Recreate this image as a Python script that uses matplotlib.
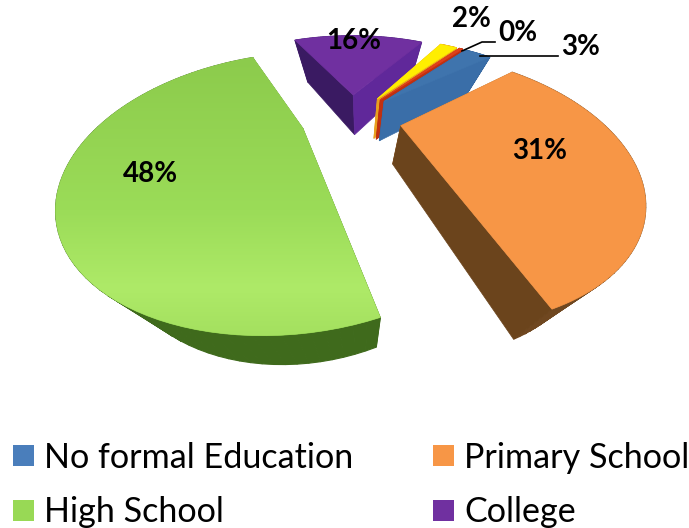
import numpy as np
import matplotlib
matplotlib.use("Agg")
import matplotlib.pyplot as plt
from matplotlib.colors import LinearSegmentedColormap
from matplotlib.patches import Polygon, Rectangle

# ----------------------------------------------------
# Data
# ----------------------------------------------------

categories = ["No formal Education", "Primary School", "High School", "College", "Other", "Unknown"]
percent = [3, 31, 48, 16, 2, 0.4]

top_colors = ["#3f74ad", "#f79646", "#98d955", "#7030a0", "#ffee00", "#e0401a"]
wall_start = ["#2f5f99", "#a8682c", "#3f6a1c", "#3a1a62", "#e8a020", "#c03010"]
wall_end = ["#3a6ea8", "#6b441c", "#3f6a1c", "#60289a", "#e8a020", "#c03010"]
wall_arc = ["#2f5f99", "#6f4720", "#3f6a1c", "#4a2278", "#e8a020", "#c03010"]

label_pos = [(581, 47), (540, 151), (150, 174), (354, 41), (471, 19), (518, 33)]
draw_order = [3, 4, 5, 0, 2, 1]

# ----------------------------------------------------
# Projection of the tilted pie
# ----------------------------------------------------

start_angle = 40
explode = 0.25
radius = 0.99
center = (0.006, -0.082)


def project(x, y):
    # ground plane to pixels, y grows toward the viewer
    s = 1 / (2.154 - y)
    return 350 + 447 * x * s, -113 + 517 * s


def drop(px, py):
    # bottom face sits under the top face, verticals converge below
    return px + (360 - px) * 0.2, py + 44 - 0.045 * py


def slice_outline(a0, a1):
    mid = np.radians((a0 + a1) / 2)
    ax = center[0] + explode * np.sin(mid)
    ay = center[1] - explode * np.cos(mid)
    t = np.radians(np.linspace(a0, a1, 80))
    xs = np.concatenate([[ax], ax + radius * np.sin(t)])
    ys = np.concatenate([[ay], ay - radius * np.cos(t)])
    return project(xs, ys)


fig = plt.figure(figsize=(6.89, 5.28), dpi=100)
ax = fig.add_axes([0, 0, 1, 1])

plt.rcParams["font.family"] = ["Lato", "DejaVu Sans"]

fractions = np.array(percent) / sum(percent)
edges = start_angle + np.concatenate([[0], np.cumsum(fractions) * 360])

# ----------------------------------------------------
# Slices
# ----------------------------------------------------

for i in draw_order:

    px, py = slice_outline(edges[i], edges[i + 1])
    bx, by = drop(px, py)
    n = len(px)
    z = draw_order.index(i) * 3

    for k in range(1, n - 1):
        quad = [(px[k], py[k]), (px[k + 1], py[k + 1]), (bx[k + 1], by[k + 1]), (bx[k], by[k])]
        ax.add_patch(Polygon(quad, color=wall_arc[i], lw=0.8, zorder=z + 1))

    quad = [(px[0], py[0]), (px[1], py[1]), (bx[1], by[1]), (bx[0], by[0])]
    ax.add_patch(Polygon(quad, color=wall_start[i], lw=0.5, zorder=z + 1))

    quad = [(px[0], py[0]), (px[-1], py[-1]), (bx[-1], by[-1]), (bx[0], by[0])]
    ax.add_patch(Polygon(quad, color=wall_end[i], lw=0.5, zorder=z + 1))

    top = Polygon(np.column_stack([px, py]), color=top_colors[i], lw=0.5, zorder=z + 2)
    ax.add_patch(top)

    if categories[i] == "High School":
        cmap = LinearSegmentedColormap.from_list(
            "green_top",
            [(0, "#8ccb4c"), (0.55, "#9bdc58"), (0.83, "#aeea68"), (1, "#a4e05f")]
        )
        img = ax.imshow(
            np.linspace(0, 1, 256).reshape(-1, 1),
            cmap=cmap,
            extent=(px.min(), px.max(), py.max(), py.min()),
            aspect="auto",
            zorder=z + 2.5
        )
        img.set_clip_path(top)

# ----------------------------------------------------
# Labels and leader lines
# ----------------------------------------------------

for value, (x, y) in zip(percent, label_pos):
    ax.text(x, y, f"{value:.0f}%", fontsize=20, fontweight="bold", ha="center", va="center", color="black", zorder=40)

ax.plot([462, 482, 495], [51, 42, 42], color="black", lw=1.2, zorder=39)
ax.plot([480, 558], [56, 56], color="black", lw=1.2, zorder=39)

# ----------------------------------------------------
# Legend
# ----------------------------------------------------

legend_x = [13, 433, 13, 433]
legend_y = [445, 445, 500, 500]

for i in range(4):
    ax.add_patch(Rectangle((legend_x[i], legend_y[i]), 21, 21, color=top_colors[i] if i != 0 else "#4a7ebb", lw=0, zorder=40))
    ax.text(legend_x[i] + 31, legend_y[i] + 12.5, categories[i], fontsize=24.6, ha="left", va="center", color="black", zorder=40)

ax.set_xlim(0, 689)
ax.set_ylim(528, 0)
ax.axis("off")

fig.savefig("out.png", dpi=100)
